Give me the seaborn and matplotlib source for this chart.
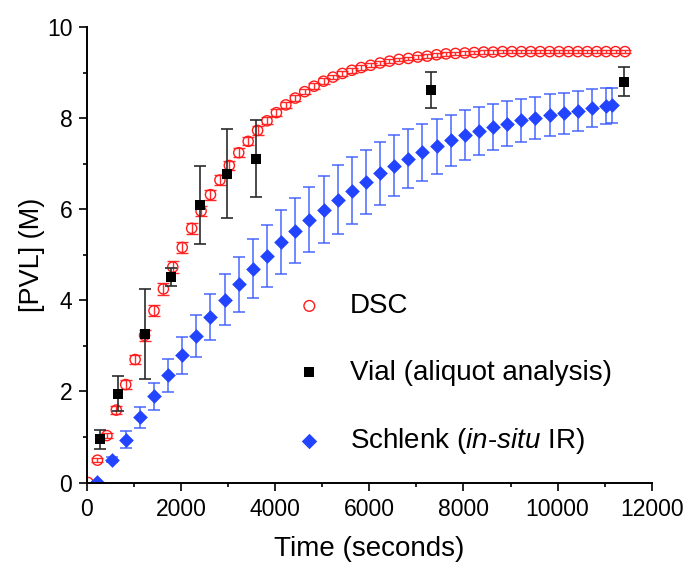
import numpy as np
import matplotlib
matplotlib.use("Agg")
import matplotlib.pyplot as plt
from matplotlib.ticker import MultipleLocator
import seaborn as sns

# DSC (open red circles)
dsc_t = [30, 230, 430, 630, 830, 1030, 1230, 1430, 1630, 1830,
         2030, 2230, 2430, 2630, 2830, 3030, 3230, 3430, 3630, 3830,
         4030, 4230, 4430, 4630, 4830, 5030, 5230, 5430, 5630, 5830,
         6030, 6230, 6430, 6630, 6830, 7030, 7230, 7430, 7630, 7830,
         8030, 8230, 8430, 8630, 8830, 9030, 9230, 9430, 9630, 9830,
         10030, 10230, 10430, 10630, 10830, 11030, 11230, 11430]
dsc_y = [0.00, 0.49, 1.03, 1.59, 2.15, 2.70, 3.23, 3.77, 4.25, 4.73,
         5.16, 5.58, 5.96, 6.32, 6.64, 6.96, 7.24, 7.49, 7.73, 7.94,
         8.12, 8.29, 8.44, 8.58, 8.70, 8.81, 8.90, 8.98, 9.05, 9.11,
         9.16, 9.21, 9.25, 9.29, 9.31, 9.34, 9.36, 9.39, 9.41, 9.42,
         9.43, 9.44, 9.45, 9.45, 9.46, 9.46, 9.46, 9.46, 9.46, 9.46,
         9.46, 9.46, 9.46, 9.46, 9.46, 9.46, 9.46, 9.46]
dsc_err = [0.00, 0.04, 0.05, 0.08, 0.09, 0.10, 0.12, 0.12, 0.13, 0.13,
           0.12, 0.12, 0.12, 0.11, 0.11, 0.10, 0.10, 0.09, 0.09, 0.08,
           0.08, 0.07, 0.07, 0.06, 0.06, 0.06, 0.05, 0.05, 0.05, 0.05,
           0.04, 0.04, 0.04, 0.04, 0.04, 0.04, 0.04, 0.04, 0.04, 0.04,
           0.04, 0.04, 0.04, 0.04, 0.04, 0.04, 0.04, 0.04, 0.04, 0.04,
           0.04, 0.04, 0.04, 0.04, 0.04, 0.04, 0.04, 0.04]

# Vial (aliquot analysis), black squares
vial_t = [290, 660, 1250, 1800, 2400, 2990, 3600, 7320, 11400]
vial_y = [0.95, 1.95, 3.26, 4.52, 6.09, 6.78, 7.11, 8.62, 8.80]
vial_err = [0.21, 0.38, 0.99, 0.20, 0.85, 0.98, 0.84, 0.40, 0.32]

# Schlenk (in-situ IR), blue diamonds
schlenk_t = [230, 530, 830, 1130, 1430, 1730, 2030, 2330, 2630, 2930,
             3230, 3530, 3830, 4130, 4430, 4730, 5030, 5330, 5630, 5930,
             6230, 6530, 6830, 7130, 7430, 7730, 8030, 8330, 8630, 8930,
             9230, 9530, 9830, 10130, 10430, 10730, 11030, 11160]
schlenk_y = [0.02, 0.50, 0.94, 1.43, 1.89, 2.35, 2.79, 3.22, 3.63, 4.01,
             4.35, 4.69, 4.98, 5.28, 5.53, 5.77, 5.99, 6.21, 6.41, 6.60,
             6.79, 6.95, 7.11, 7.25, 7.38, 7.51, 7.62, 7.72, 7.81, 7.88,
             7.95, 8.01, 8.07, 8.11, 8.16, 8.22, 8.27, 8.28]
schlenk_err = [0.00, 0.05, 0.18, 0.23, 0.29, 0.37, 0.41, 0.46, 0.51, 0.56,
               0.61, 0.65, 0.68, 0.70, 0.71, 0.72, 0.74, 0.75, 0.73, 0.71,
               0.69, 0.67, 0.65, 0.62, 0.61, 0.56, 0.55, 0.52, 0.50, 0.49,
               0.48, 0.46, 0.46, 0.45, 0.44, 0.42, 0.40, 0.39]

sns.set_theme(style="ticks")
plt.rcParams['font.family'] = ['Liberation Sans', 'DejaVu Sans']
plt.rcParams['mathtext.fontset'] = 'custom'
plt.rcParams['mathtext.rm'] = 'Liberation Sans'
plt.rcParams['mathtext.it'] = 'Liberation Sans:italic'
plt.rcParams['text.color'] = 'black'
plt.rcParams['axes.labelcolor'] = 'black'

fig = plt.figure(figsize=(6.88, 5.64), dpi=100)
ax = fig.add_axes([0.1259, 0.1445, 0.8215, 0.8076])

ax.errorbar(dsc_t, dsc_y, yerr=dsc_err, fmt='none', ecolor='#ff2a2a',
            elinewidth=1.0, capsize=4, capthick=1.0, zorder=2)
ax.errorbar(schlenk_t, schlenk_y, yerr=schlenk_err, fmt='none', ecolor='#3a5cff',
            elinewidth=1.2, capsize=4.5, capthick=1.2, alpha=0.85, zorder=2)
ax.errorbar(vial_t, vial_y, yerr=vial_err, fmt='none', ecolor='#2b2b2b',
            elinewidth=1.2, capsize=4.5, capthick=1.2, zorder=4)

sns.scatterplot(x=dsc_t, y=dsc_y, ax=ax, marker='o', s=54, facecolors='none',
                edgecolor='#ff1a1a', linewidth=1.0, label='DSC', zorder=3)
sns.scatterplot(x=vial_t, y=vial_y, ax=ax, marker='s', s=54, color='black',
                edgecolor='black', linewidth=0, label='Vial (aliquot analysis)', zorder=5)
sns.scatterplot(x=schlenk_t, y=schlenk_y, ax=ax, marker='D', s=56, color='#2244ff',
                edgecolor='#2244ff', linewidth=0, label=r'Schlenk ($\mathit{in}$-$\mathit{situ}$ IR)',
                zorder=3)

ax.set_xlim(0, 12000)
ax.set_ylim(0, 10)
ax.xaxis.set_major_locator(MultipleLocator(2000))
ax.xaxis.set_minor_locator(MultipleLocator(1000))
ax.yaxis.set_major_locator(MultipleLocator(2))
ax.yaxis.set_minor_locator(MultipleLocator(1))
ax.tick_params(which='major', direction='out', length=5.8, width=1.2, labelsize=16.5,
               colors='black')
ax.tick_params(which='minor', direction='out', length=2.9, width=1.2, colors='black')
ax.tick_params(axis='x', which='major', pad=5)
ax.tick_params(axis='y', which='major', pad=4.5)
sns.despine(ax=ax)
for side in ['left', 'bottom']:
    ax.spines[side].set_linewidth(1.4)
    ax.spines[side].set_color('black')
    ax.spines[side].set_zorder(6)

ax.set_xlabel('Time (seconds)', fontsize=20, color='black')
ax.set_ylabel('[PVL] (M)', fontsize=19.5, color='black')
ax.xaxis.set_label_coords(0.5, -0.118)
ax.yaxis.set_label_coords(-0.073, 0.5)

leg = ax.legend(loc='upper left', bbox_to_anchor=(0.3498, 0.440), frameon=False,
                fontsize=20, labelspacing=1.46, handlelength=1.0, handletextpad=0.96,
                markerscale=1.05, borderaxespad=0)
for txt in leg.get_texts():
    txt.set_color('black')

fig.savefig('out.png', dpi=100)
